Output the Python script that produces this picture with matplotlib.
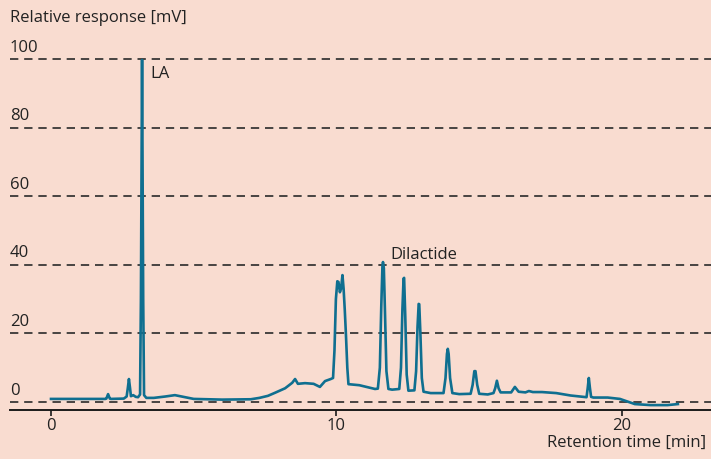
import matplotlib
matplotlib.use("Agg")
import matplotlib.pyplot as plt

# chromatogram trace, read point by point (time in min, response in mV)
time_min = [0.0, 1.9, 1.94, 2.0, 2.06, 2.1, 2.55, 2.65, 2.69, 2.73, 2.77, 2.8, 2.88, 2.97,
            3.05, 3.12, 3.15, 3.19, 3.23, 3.26, 3.34, 3.6, 4.0, 4.34, 4.7, 5.0, 6.0, 7.0,
            7.3, 7.6, 7.85, 8.2, 8.45, 8.55, 8.65, 8.9, 9.2, 9.42, 9.6, 9.8, 9.88, 9.93,
            9.98, 10.03, 10.07, 10.12, 10.16, 10.21, 10.25, 10.29, 10.33, 10.38, 10.42,
            10.8, 11.35, 11.45, 11.52, 11.57, 11.61, 11.63, 11.66, 11.7, 11.75, 11.82,
            11.95, 12.2, 12.26, 12.31, 12.35, 12.37, 12.41, 12.46, 12.52, 12.73, 12.79,
            12.84, 12.88, 12.9, 12.94, 12.99, 13.05, 13.3, 13.75, 13.82, 13.87, 13.9,
            13.93, 13.98, 14.06, 14.3, 14.7, 14.77, 14.83, 14.87, 14.93, 15.0, 15.3,
            15.5, 15.56, 15.62, 15.68, 15.75, 16.05, 16.12, 16.25, 16.38, 16.62, 16.74,
            16.88, 17.2, 17.7, 18.2, 18.76, 18.8, 18.84, 18.88, 18.92, 19.0, 19.5,
            19.93, 20.45, 21.0, 21.6, 21.96]
response_mv = [0.9, 0.9, 1.0, 2.3, 1.0, 0.9, 1.0, 1.6, 4.0, 6.7, 4.0, 1.7, 2.0, 1.5,
               1.4, 2.2, 30.0, 99.7, 30.0, 2.0, 1.2, 1.2, 1.6, 2.0, 1.4, 0.9, 0.7, 0.8,
               1.2, 1.8, 2.7, 4.0, 5.6, 6.7, 5.3, 5.5, 5.3, 4.4, 6.1, 6.7, 7.0, 15.0,
               30.0, 35.2, 35.0, 32.0, 33.0, 37.0, 33.0, 27.0, 20.0, 10.0, 5.2,
               4.9, 3.8, 3.9, 10.0, 28.0, 39.5, 40.8, 39.0, 26.0, 9.0, 3.8,
               3.6, 3.8, 10.0, 27.0, 36.0, 36.2, 25.0, 8.0, 3.3, 3.4, 9.0,
               22.0, 28.6, 28.5, 20.0, 7.0, 3.0, 2.6, 2.6, 7.0, 14.0, 15.5,
               14.0, 7.0, 2.6, 2.3, 2.4, 5.0, 9.0, 9.0, 5.0, 2.4, 2.2,
               2.6, 4.0, 6.2, 4.0, 2.8, 2.8, 2.8, 4.4, 3.0, 2.8, 3.2,
               2.9, 2.9, 2.6, 1.9, 1.4, 4.0, 7.0, 4.0, 1.5, 1.3, 1.3,
               0.9, -0.6, -0.9, -0.9, -0.6]

y_grid = [0, 20, 40, 60, 80, 100]
x_ticks = [0, 10, 20]
peak_labels = [("LA", 3.19, 99.7), ("Dilactide", 11.63, 40.8)]

bg = "#f9dcd0"
line_col = "#0f6f90"
text_col = "#222222"

plt.rcParams['font.family'] = ['Open Sans', 'DejaVu Sans']

fig = plt.figure(figsize=(7.11, 4.59), dpi=100, facecolor=bg)
ax = fig.add_axes([10 / 711, 49 / 459, 701 / 711, 370 / 459])
ax.set_facecolor(bg)

ax.set_xlim(-1.436, 23.12)
ax.set_ylim(-2.33, 105.54)

# dashed reference lines with their values sitting on top at the left edge
for v in y_grid:
    ax.axhline(v, color="#2a2a2a", lw=1.2, dashes=(5, 3.5), zorder=1)
    ax.text(0, v + 1.0, str(v), transform=ax.get_yaxis_transform(),
            ha="left", va="bottom", fontsize=12, color=text_col)

ax.plot(time_min, response_mv, color=line_col, lw=1.9, solid_joinstyle="round", zorder=3)

name, t, v = peak_labels[0]
ax.text(t + 0.28, v - 4.0, name, fontsize=12, color=text_col, ha="left", va="center")
name, t, v = peak_labels[1]
ax.text(t + 0.25, v + 2.2, name, fontsize=12, color=text_col, ha="left", va="center")

for s in ["top", "right", "left"]:
    ax.spines[s].set_visible(False)
ax.spines["bottom"].set_linewidth(1.4)
ax.spines["bottom"].set_color("#1a1a1a")
ax.set_yticks([])
ax.set_xticks(x_ticks)
ax.tick_params(axis="x", direction="out", length=4, width=1.2, color="#1a1a1a",
               labelsize=12, labelcolor=text_col, pad=2)

fig.text(10 / 711, 1 - 18 / 459, "Relative response [mV]", fontsize=12,
         color=text_col, ha="left", va="center")
fig.text(706 / 711, 1 - 443 / 459, "Retention time [min]", fontsize=12,
         color=text_col, ha="right", va="center")

fig.savefig("out.png", dpi=100, facecolor=bg)
